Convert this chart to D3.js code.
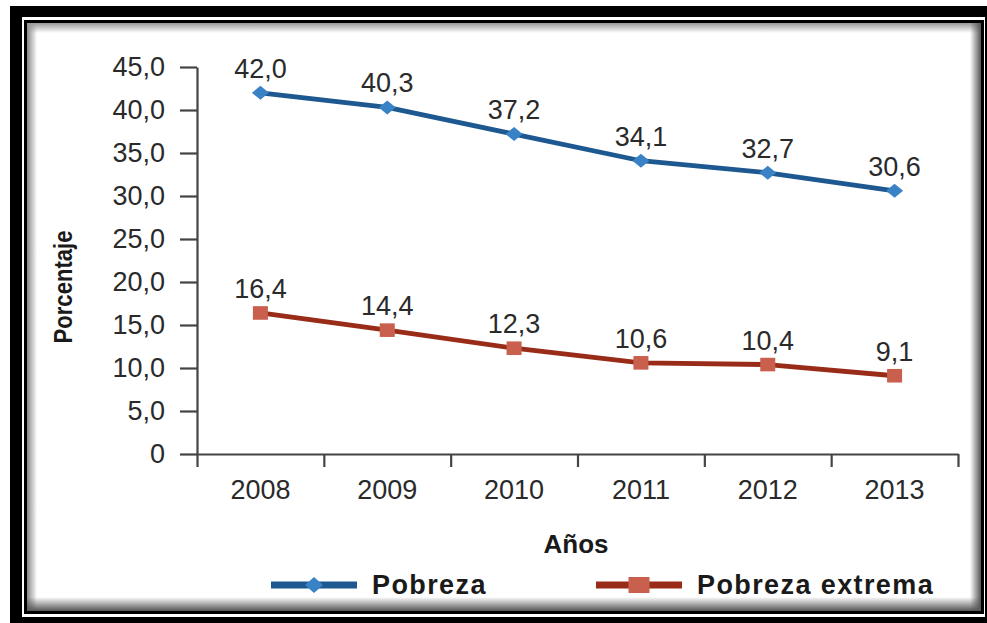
<!DOCTYPE html>
<html><head><meta charset="utf-8">
<script src="https://cdn.jsdelivr.net/npm/d3@7"></script>
<style>body{margin:0;background:#fff}svg{display:block}</style>
</head><body><svg id="c" width="987" height="623"></svg>
<script>
const years = ["2008","2009","2010","2011","2012","2013"];
const pobreza = [42.0, 40.3, 37.2, 34.1, 32.7, 30.6];
const pobrezaExtrema = [16.4, 14.4, 12.3, 10.6, 10.4, 9.1];
const yTicks = [0,5,10,15,20,25,30,35,40,45];
const yTickLabels = ["0","5,0","10,0","15,0","20,0","25,0","30,0","35,0","40,0","45,0"];
const seriesNames = ["Pobreza","Pobreza extrema"];
const yTitle = "Porcentaje", xTitle = "Años";

const svg = d3.select("#c");
const defs = svg.append("defs");
// frame
svg.append("rect").attr("x",10).attr("y",6).attr("width",977).attr("height",617).attr("fill","#000");
svg.append("rect").attr("x",22).attr("y",17).attr("width",963).attr("height",600).attr("fill","#fff");
svg.append("rect").attr("x",24).attr("y",20).attr("width",960).attr("height",594).attr("fill","#000");
svg.append("rect").attr("x",27).attr("y",23).attr("width",954).attr("height",588).attr("fill","#fff");
function grad(id,x1,y1,x2,y2,c){const g=defs.append("linearGradient").attr("id",id).attr("x1",x1).attr("y1",y1).attr("x2",x2).attr("y2",y2);
 g.append("stop").attr("offset",0).attr("stop-color",c).attr("stop-opacity",1);
 g.append("stop").attr("offset",1).attr("stop-color",c).attr("stop-opacity",0);}
grad("gl",0,0,1,0,"#888");grad("gt",0,0,0,1,"#999");grad("gr",1,0,0,0,"#555");grad("gb",0,1,0,0,"#555");
svg.append("rect").attr("x",27).attr("y",23).attr("width",10).attr("height",588).attr("fill","url(#gl)");
svg.append("rect").attr("x",27).attr("y",23).attr("width",954).attr("height",10).attr("fill","url(#gt)");
svg.append("rect").attr("x",970).attr("y",23).attr("width",11).attr("height",588).attr("fill","url(#gr)");
svg.append("rect").attr("x",27).attr("y",597).attr("width",954).attr("height",14).attr("fill","url(#gb)");

const font = "'Liberation Sans', Arial, sans-serif";
const x0 = 197, x1 = 958;
const xBand = d3.scaleBand().domain(years).range([x0,x1]);
const xEdge = d3.scaleLinear().domain([0,years.length]).range([x0,x1]);
const y = d3.scaleLinear().domain([0,45]).range([454,67]);
const axisColor = "#444", txt = "#2a2a2a";

const gy = svg.append("g").attr("transform",`translate(${x0},0)`)
 .call(d3.axisLeft(y).tickValues(yTicks).tickSize(17).tickSizeOuter(0).tickPadding(15).tickFormat((d,i)=>yTickLabels[i]));
const gxt = svg.append("g").attr("transform","translate(0,454)")
 .call(d3.axisBottom(xEdge).tickValues(d3.range(years.length+1)).tickSize(13).tickSizeOuter(0).tickFormat(""));
const gx = svg.append("g").attr("transform","translate(0,454)")
 .call(d3.axisBottom(xBand).tickSize(0).tickPadding(26));
gx.select(".domain").remove();
[gy,gxt].forEach(g=>{g.select(".domain").attr("stroke",axisColor).attr("stroke-width",2.2);g.selectAll(".tick line").attr("stroke",axisColor).attr("stroke-width",2.2);});
[gy,gx].forEach(g=>g.selectAll("text").attr("font-family",font).attr("font-size",27).attr("fill",txt));
gx.selectAll("text").attr("dy","0.71em");

const series = [
 {vals:pobreza, line:"#1d5890", mark:"#3a82c6", shape:"diamond"},
 {vals:pobrezaExtrema, line:"#992c18", mark:"#c9604e", shape:"square"}
];
const cx = d => xBand(d)+xBand.bandwidth()/2;
function marker(g,shape,px,py,big){
 if(shape==="diamond"){const w=big?9:8.5,h=big?8:7;
  g.append("path").attr("d",`M${px-w},${py}L${px},${py-h}L${px+w},${py}L${px},${py+h}Z`);}
 else{const w=big?10.5:7.5,h=big?8:6.8;
  g.append("rect").attr("x",px-w).attr("y",py-h).attr("width",2*w).attr("height",2*h);}
}
series.forEach(s=>{
 const line = d3.line().x((d,i)=>cx(years[i])).y(d=>y(d));
 svg.append("path").datum(s.vals).attr("d",line).attr("fill","none").attr("stroke",s.line).attr("stroke-width",4.8);
 const mg = svg.append("g").attr("fill",s.mark);
 s.vals.forEach((v,i)=>marker(mg,s.shape,cx(years[i]),y(v),false));
 svg.append("g").selectAll("text").data(s.vals).join("text")
  .attr("x",(d,i)=>cx(years[i])).attr("y",d=>y(d)-15)
  .attr("text-anchor","middle").attr("font-family",font).attr("font-size",27).attr("fill",txt)
  .text(d=>d.toFixed(1).replace(".",","));
});

svg.append("text").attr("transform","translate(72,287) rotate(-90)").attr("text-anchor","middle")
 .attr("font-family",font).attr("font-weight","bold").attr("font-size",26)
 .attr("textLength",113).attr("lengthAdjust","spacingAndGlyphs").attr("fill","#1a1a1a").text(yTitle);
svg.append("text").attr("x",576).attr("y",553).attr("text-anchor","middle")
 .attr("font-family",font).attr("font-weight","bold").attr("font-size",26).attr("fill","#1a1a1a").text(xTitle);

// legend
const leg = [{x:271,tx:372},{x:596,tx:697}];
series.forEach((s,i)=>{
 const L = leg[i];
 svg.append("line").attr("x1",L.x).attr("x2",L.x+86).attr("y1",585).attr("y2",585).attr("stroke",s.line).attr("stroke-width",7);
 const mg = svg.append("g").attr("fill",s.mark);
 marker(mg,s.shape,L.x+43,585,true);
 svg.append("text").attr("x",L.tx).attr("y",594).attr("font-family",font).attr("font-weight","bold")
  .attr("font-size",27).attr("letter-spacing",1.4).attr("fill","#1a1a1a").text(seriesNames[i]);
});
</script></body></html>
